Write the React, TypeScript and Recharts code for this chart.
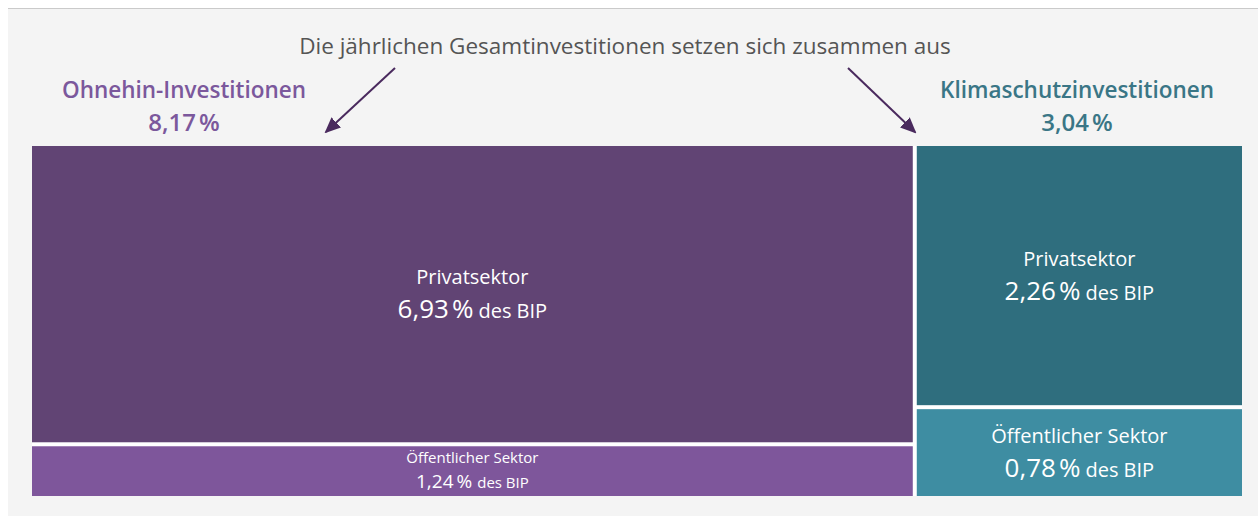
import { ComposedChart, XAxis, YAxis, ReferenceArea, Scatter } from "recharts";

// group totals (% des BIP)
const GROUPS = ["Ohnehin-Investitionen", "Klimaschutzinvestitionen"];
const GROUP_TOTALS = [8.17, 3.04];
// sub-sectors per group, top to bottom
const SECTORS = ["Privatsektor", "Öffentlicher Sektor"];
const OHNEHIN_VALUES = [6.93, 1.24];
const KLIMA_VALUES = [2.26, 0.78];

const GROUP_COLORS = ["#7b589c", "#3a7686"];
const OHNEHIN_FILLS = ["#614474", "#7e569b"];
const KLIMA_FILLS = ["#2f6e7e", "#3e8da2"];

const FONT = "'Open Sans', 'Noto Sans', sans-serif";
const TOTAL = GROUP_TOTALS.reduce((a, b) => a + b, 0);
const GAP = 2;

const fmt = (v: number) => v.toFixed(2).replace(".", ",");

interface Cell {
  key: string;
  name: string;
  value: number;
  x1: number;
  x2: number;
  y1: number;
  y2: number;
  fill: string;
}

// build rectangles in data space: x = share of the total, y = share within group
const cells: Cell[] = [];
{
  const valueSets = [OHNEHIN_VALUES, KLIMA_VALUES];
  const fillSets = [OHNEHIN_FILLS, KLIMA_FILLS];
  let xStart = 0;
  GROUP_TOTALS.forEach((total, g) => {
    let yStart = 0;
    valueSets[g].forEach((v, i) => {
      cells.push({
        key: `${g}-${i}`,
        name: SECTORS[i],
        value: v,
        x1: xStart,
        x2: xStart + total,
        y1: yStart,
        y2: yStart + v / total,
        fill: fillSets[g][i],
      });
      yStart += v / total;
    });
    xStart += total;
  });
}

// corner points so the numeric axes have something to scale
const corners = cells.flatMap((c) => [
  { x: c.x1, y: c.y1 },
  { x: c.x2, y: c.y2 },
]);

function InsetRect(props: any) {
  const { x, y, width, height, fill } = props;
  return (
    <rect
      x={x + GAP}
      y={y + GAP}
      width={Math.max(0, width - GAP * 2)}
      height={Math.max(0, height - GAP * 2)}
      fill={fill}
    />
  );
}

function CellLabel({ viewBox, cell }: { viewBox?: any; cell: Cell }) {
  if (!viewBox) return null;
  const cx = viewBox.x + viewBox.width / 2;
  const cy = viewBox.y + viewBox.height / 2;
  // tight cells get a smaller, denser label
  const small = viewBox.height < 65;
  const nameSize = small ? 15 : 20;
  const valSize = small ? 19 : 26;
  const nameY = small ? cy - 8 : cy - 10;
  const valY = small ? cy + 17 : cy + 24;
  return (
    <g fontFamily={FONT} fill="#ffffff" textAnchor="middle">
      <text x={cx} y={nameY} fontSize={nameSize}>
        {cell.name}
      </text>
      <text x={cx} y={valY} fontSize={nameSize}>
        <tspan fontSize={valSize}>{fmt(cell.value)}</tspan>
        <tspan fontSize={valSize} dx={3}>%</tspan>
        <tspan dx={5}>des BIP</tspan>
      </text>
    </g>
  );
}

export default function App() {
  return (
    <div
      style={{
        position: "fixed",
        left: 8,
        top: 8,
        width: 1250,
        height: 508,
        background: "#f4f4f4",
        borderTop: "1px solid #cacaca",
        fontFamily: FONT,
      }}
    >
      <ComposedChart
        width={1250}
        height={507}
        data={corners}
        margin={{ top: 135, right: 14, bottom: 18, left: 22 }}
      >
        <XAxis type="number" dataKey="x" domain={[0, TOTAL]} hide />
        <YAxis type="number" dataKey="y" domain={[0, 1]} reversed hide />
        <Scatter dataKey="y" fill="none" isAnimationActive={false} shape={() => <g />} />
        <ReferenceArea
          x1={0}
          x2={TOTAL}
          y1={0}
          y2={1}
          fill="#ffffff"
          fillOpacity={1}
          ifOverflow="visible"
          shape={InsetRect}
        />
        {cells.map((c) => (
          <ReferenceArea
            key={c.key}
            x1={c.x1}
            x2={c.x2}
            y1={c.y1}
            y2={c.y2}
            fill={c.fill}
            fillOpacity={1}
            ifOverflow="visible"
            shape={InsetRect}
            label={(p: any) => <CellLabel viewBox={p.viewBox} cell={c} />}
          />
        ))}
      </ComposedChart>

      {/* annotations */}
      <svg
        width={1250}
        height={140}
        style={{ position: "absolute", left: 0, top: 0, pointerEvents: "none" }}
      >
        <defs>
          <marker id="arrowhead" markerWidth="16" markerHeight="14" refX="14" refY="7" orient="auto" markerUnits="userSpaceOnUse">
            <path d="M0,0 L16,7 L0,14 Z" fill="#4a2a5e" />
          </marker>
        </defs>
        <text x={617} y={45} textAnchor="middle" fontSize={22.5} fill="#555555" fontFamily={FONT}>
          Die jährlichen Gesamtinvestitionen setzen sich zusammen aus
        </text>
        <line x1={387} y1={59} x2={318} y2={123} stroke="#4a2a5e" strokeWidth={2} markerEnd="url(#arrowhead)" />
        <line x1={840} y1={59} x2={907} y2={123} stroke="#4a2a5e" strokeWidth={2} markerEnd="url(#arrowhead)" />

        <text x={176} y={89} textAnchor="middle" fontSize={22.5} fontWeight={600} fill={GROUP_COLORS[0]} fontFamily={FONT}>
          {GROUPS[0]}
        </text>
        <text x={176} y={122} textAnchor="middle" fontSize={24} fontWeight={600} fill={GROUP_COLORS[0]} fontFamily={FONT}>
          {fmt(GROUP_TOTALS[0])}
          <tspan dx={3}>%</tspan>
        </text>
        <text x={1069} y={89} textAnchor="middle" fontSize={22.5} fontWeight={600} fill={GROUP_COLORS[1]} fontFamily={FONT}>
          {GROUPS[1]}
        </text>
        <text x={1069} y={122} textAnchor="middle" fontSize={24} fontWeight={600} fill={GROUP_COLORS[1]} fontFamily={FONT}>
          {fmt(GROUP_TOTALS[1])}
          <tspan dx={3}>%</tspan>
        </text>
      </svg>
    </div>
  );
}
